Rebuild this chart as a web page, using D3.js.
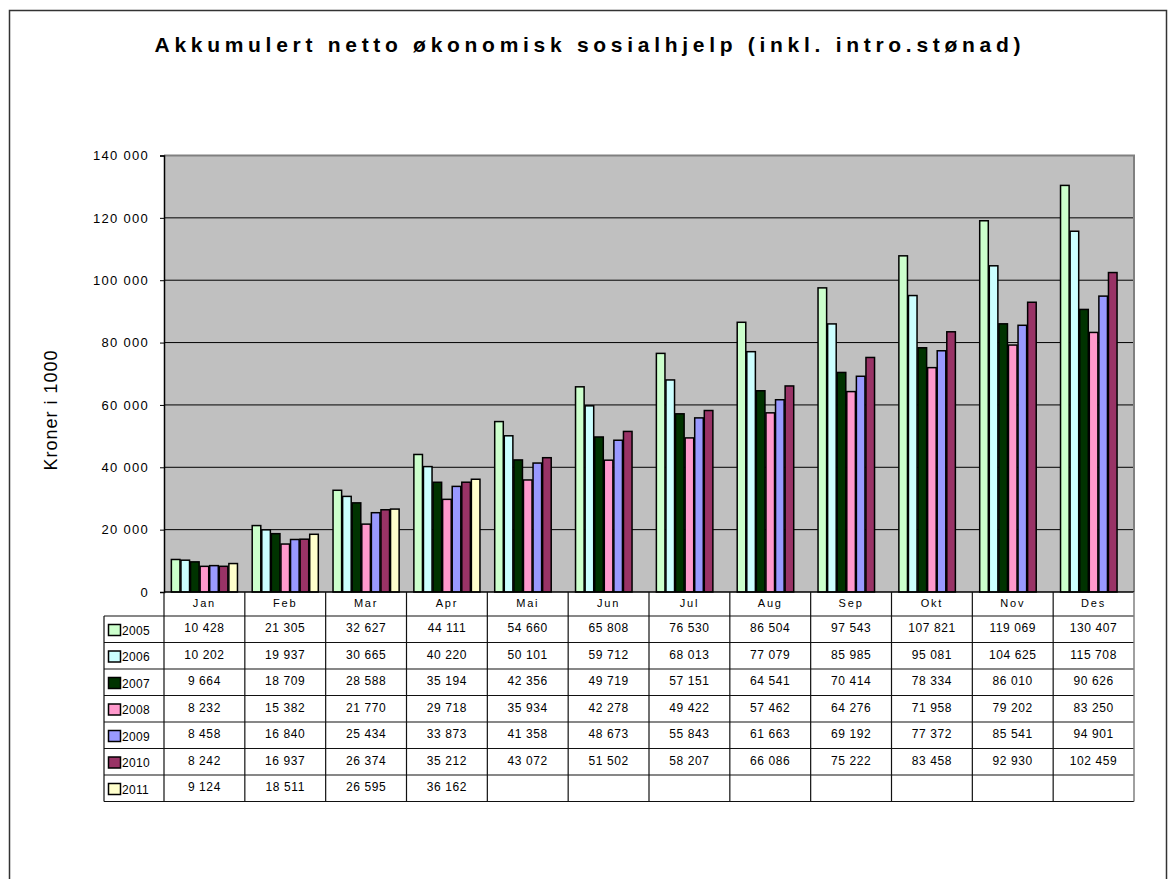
<!DOCTYPE html>
<html>
<head>
<meta charset="utf-8">
<script src="https://cdn.jsdelivr.net/npm/d3@7"></script>
<style>
  body { margin: 0; background: #fff; }
  svg { display: block; font-family: Arial, "Liberation Sans", sans-serif; }
</style>
</head>
<body>
<script>
var months = ["Jan", "Feb", "Mar", "Apr", "Mai", "Jun", "Jul", "Aug", "Sep", "Okt", "Nov", "Des"];
var years = ["2005", "2006", "2007", "2008", "2009", "2010", "2011"];
var colors = ["#CCFFCC", "#CCFFFF", "#003300", "#FF99CC", "#9999FF", "#993366", "#FFFFCC"];
var yTicks = [0, 20000, 40000, 60000, 80000, 100000, 120000, 140000];

var v2005 = [10428, 21305, 32627, 44111, 54660, 65808, 76530, 86504, 97543, 107821, 119069, 130407];
var v2006 = [10202, 19937, 30665, 40220, 50101, 59712, 68013, 77079, 85985, 95081, 104625, 115708];
var v2007 = [9664, 18709, 28588, 35194, 42356, 49719, 57151, 64541, 70414, 78334, 86010, 90626];
var v2008 = [8232, 15382, 21770, 29718, 35934, 42278, 49422, 57462, 64276, 71958, 79202, 83250];
var v2009 = [8458, 16840, 25434, 33873, 41358, 48673, 55843, 61663, 69192, 77372, 85541, 94901];
var v2010 = [8242, 16937, 26374, 35212, 43072, 51502, 58207, 66086, 75222, 83458, 92930, 102459];
var v2011 = [9124, 18511, 26595, 36162, null, null, null, null, null, null, null, null];

var series = [v2005, v2006, v2007, v2008, v2009, v2010, v2011];

var W = 1171, H = 879;
var plot = {left: 164, right: 1134, top: 155.5, bottom: 592};
var headerH = 24, rowH = 26.5, tableLeft = 104;

var nf = d3.formatLocale({decimal: ",", thousands: " ", grouping: [3], currency: ["", ""]}).format(",d");

var svg = d3.select("body").append("svg")
    .attr("width", W)
    .attr("height", H);

// outer frame
svg.append("rect")
    .attr("x", 9.5).attr("y", 10.5)
    .attr("width", 1157).attr("height", 920)
    .attr("fill", "#fff")
    .attr("stroke", "#333")
    .attr("stroke-width", 1.5);

svg.append("text")
    .attr("x", 587.5).attr("y", 52)
    .attr("text-anchor", "middle")
    .attr("font-size", 21)
    .attr("font-weight", "bold")
    .attr("textLength", 866)
    .attr("lengthAdjust", "spacing")
    .text("Akkumulert  netto økonomisk sosialhjelp (inkl. intro.stønad)");

var x0 = d3.scaleBand()
    .domain(months)
    .range([plot.left, plot.right])
    .paddingInner(0.17)
    .paddingOuter(0.085);

var col = d3.scaleBand()
    .domain(months)
    .range([plot.left, plot.right]);

var x1 = d3.scaleBand()
    .domain(years)
    .range([0, x0.bandwidth()]);

var y = d3.scaleLinear()
    .domain([0, 140000])
    .range([plot.bottom, plot.top]);

// plot background
svg.append("rect")
    .attr("x", plot.left).attr("y", plot.top)
    .attr("width", plot.right - plot.left)
    .attr("height", plot.bottom - plot.top)
    .attr("fill", "#C0C0C0");

// gridlines
svg.append("g").selectAll("line")
    .data(yTicks.filter(function(d) { return d > 0 && d < 140000; }))
  .enter().append("line")
    .attr("x1", plot.left).attr("x2", plot.right)
    .attr("y1", function(d) { return y(d); })
    .attr("y2", function(d) { return y(d); })
    .attr("stroke", "#000")
    .attr("stroke-width", 1);

// plot border top/right
svg.append("path")
    .attr("d", "M" + plot.left + "," + plot.top + "H" + plot.right + "V" + plot.bottom)
    .attr("fill", "none")
    .attr("stroke", "#808080")
    .attr("stroke-width", 2);

// bars
var groups = svg.append("g").selectAll("g")
    .data(months)
  .enter().append("g")
    .attr("transform", function(d) { return "translate(" + x0(d) + ",0)"; });

groups.selectAll("rect")
    .data(function(m, i) {
      return years.map(function(yr, j) { return {year: yr, value: series[j][i], color: colors[j]}; })
        .filter(function(d) { return d.value != null; });
    })
  .enter().append("rect")
    .attr("x", function(d) { return x1(d.year) + 0.5; })
    .attr("y", function(d) { return y(d.value); })
    .attr("width", x1.bandwidth() - 1)
    .attr("height", function(d) { return plot.bottom - y(d.value); })
    .attr("fill", function(d) { return d.color; })
    .attr("stroke", "#000")
    .attr("stroke-width", 1.5);

// y axis
var yAxis = d3.axisLeft(y)
    .tickValues(yTicks)
    .tickSize(4)
    .tickFormat(nf);

var ga = svg.append("g")
    .attr("transform", "translate(" + plot.left + ",0)")
    .call(yAxis);
ga.select(".domain").attr("stroke", "#000").attr("stroke-width", 1.5);
ga.selectAll("text")
    .attr("x", -15)
    .attr("font-size", 13)
    .attr("letter-spacing", "1.3px")
    .attr("font-family", "Arial, 'Liberation Sans', sans-serif")
    .attr("fill", "#000");

svg.append("text")
    .attr("transform", "translate(57,410) rotate(-90)")
    .attr("text-anchor", "middle")
    .attr("font-size", 18)
    .attr("letter-spacing", "1px")
    .text("Kroner i 1000");

// data table
var table = svg.append("g")
    .attr("fill", "none")
    .attr("stroke", "#111")
    .attr("stroke-width", 1.2);

var tableTop = plot.bottom + headerH;
var tableBottom = tableTop + rowH * years.length;

// horizontal lines
table.append("line")
    .attr("x1", plot.left).attr("x2", plot.right)
    .attr("y1", plot.bottom).attr("y2", plot.bottom)
    .attr("stroke", "#000").attr("stroke-width", 1.5);
table.selectAll("line.row")
    .data(d3.range(years.length + 1))
  .enter().append("line")
    .attr("class", "row")
    .attr("x1", tableLeft).attr("x2", plot.right)
    .attr("y1", function(i) { return tableTop + i * rowH; })
    .attr("y2", function(i) { return tableTop + i * rowH; });

// vertical lines
table.selectAll("line.col")
    .data(months)
  .enter().append("line")
    .attr("class", "col")
    .attr("x1", function(d) { return col(d); })
    .attr("x2", function(d) { return col(d); })
    .attr("y1", plot.bottom).attr("y2", tableBottom);
table.append("line")
    .attr("x1", plot.right).attr("x2", plot.right)
    .attr("y1", plot.bottom).attr("y2", tableBottom)
    .attr("stroke", "#808080").attr("stroke-width", 1.5);
table.append("line")
    .attr("x1", tableLeft).attr("x2", tableLeft)
    .attr("y1", tableTop).attr("y2", tableBottom);

// month labels
svg.append("g").selectAll("text")
    .data(months)
  .enter().append("text")
    .attr("x", function(d) { return col(d) + col.bandwidth() / 2; })
    .attr("y", plot.bottom + 15)
    .attr("text-anchor", "middle")
    .attr("font-size", 11)
    .attr("letter-spacing", "1.8px")
    .text(function(d) { return d; });

// legend column
var legend = svg.append("g").selectAll("g")
    .data(years)
  .enter().append("g")
    .attr("transform", function(d, i) { return "translate(" + tableLeft + "," + (tableTop + i * rowH) + ")"; });
legend.append("rect")
    .attr("x", 4.5).attr("y", 8.5)
    .attr("width", 12).attr("height", 11)
    .attr("fill", function(d, i) { return colors[i]; })
    .attr("stroke", "#000")
    .attr("stroke-width", 1.5);
legend.append("text")
    .attr("x", 18).attr("y", 18.5)
    .attr("font-size", 12)
    .attr("letter-spacing", "0.3px")
    .text(function(d) { return d; });

// values
var rows = svg.append("g").selectAll("g")
    .data(series)
  .enter().append("g")
    .attr("transform", function(d, i) { return "translate(0," + (tableTop + i * rowH) + ")"; });
rows.selectAll("text")
    .data(function(d) { return d.map(function(v, i) { return {m: months[i], v: v}; }).filter(function(e) { return e.v != null; }); })
  .enter().append("text")
    .attr("x", function(d) { return col(d.m) + col.bandwidth() / 2; })
    .attr("y", 16)
    .attr("text-anchor", "middle")
    .attr("font-size", 12)
    .attr("letter-spacing", "0.6px")
    .text(function(d) { return nf(d.v); });
</script>
</body>
</html>
